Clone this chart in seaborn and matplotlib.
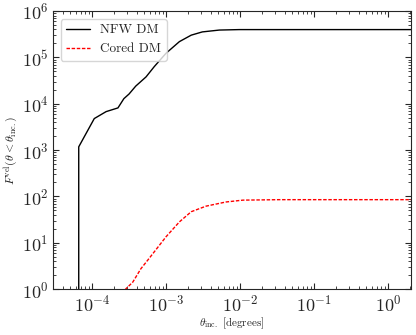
import numpy as np
import pandas as pd
import seaborn as sns
import matplotlib
matplotlib.use('Agg')
import matplotlib.pyplot as plt

# values (log10 theta [deg], log10 F)
nfw_logtheta = [-4.18, -4.18, -3.97, -3.81, -3.65, -3.57, -3.50, -3.41, -3.27, -3.16,
                -3.00, -2.82, -2.66, -2.51, -2.28, -2.01, -1.50, -1.00, 0.0, 0.31]
nfw_logF = [-1.0, 3.07, 3.68, 3.83, 3.91, 4.11, 4.21, 4.38, 4.58, 4.80,
            5.09, 5.34, 5.48, 5.55, 5.59, 5.60, 5.60, 5.60, 5.60, 5.60]

cored_logtheta = [-3.60, -3.54, -3.45, -3.34, -3.23, -3.00, -2.82, -2.66, -2.46,
                  -2.19, -1.96, -1.47, -1.00, 0.0, 0.31]
cored_logF = [-0.10, 0.01, 0.15, 0.44, 0.66, 1.13, 1.45, 1.67, 1.79,
              1.88, 1.92, 1.93, 1.93, 1.93, 1.93]

nfw = pd.DataFrame({'theta': 10.0 ** np.array(nfw_logtheta), 'F': 10.0 ** np.array(nfw_logF)})
cored = pd.DataFrame({'theta': 10.0 ** np.array(cored_logtheta), 'F': 10.0 ** np.array(cored_logF)})

sns.set_style('ticks')
plt.rcParams.update({
    'font.family': 'serif',
    'font.serif': ['cmr10'],
    'mathtext.fontset': 'cm',
    'axes.formatter.use_mathtext': True,
    'xtick.direction': 'in',
    'ytick.direction': 'in',
    'xtick.top': True,
    'ytick.right': True,
    'xtick.minor.visible': True,
    'ytick.minor.visible': True,
})

fig = plt.figure(figsize=(4.16, 3.35), dpi=100)
ax = fig.add_axes([0.127, 0.137, 0.861, 0.830])

sns.lineplot(data=nfw, x='theta', y='F', ax=ax, color='black', lw=1.0,
             sort=False, estimator=None, label='NFW DM')
sns.lineplot(data=cored, x='theta', y='F', ax=ax, color='red', lw=1.0,
             linestyle=(0, (2.5, 1.2)), sort=False, estimator=None, label='Cored DM')

ax.set_xscale('log')
ax.set_yscale('log')
ax.set_xlim(10 ** -4.53, 10 ** 0.31)
ax.set_ylim(1, 1e6)
ax.set_xlabel(r'$\theta_{\rm inc.}$ [degrees]', fontsize=8, labelpad=1)
ax.set_ylabel(r'$F^{\rm vel}(\theta < \theta_{\rm inc.})$', fontsize=8.5, labelpad=1)
ax.tick_params(axis='both', which='major', labelsize=13, length=4, pad=3)
ax.tick_params(axis='both', which='minor', length=2)
ax.legend(loc='upper left', fontsize=9.5, frameon=True, fancybox=True,
          handlelength=1.8, borderaxespad=0.6)

fig.savefig('out.png', dpi=100)
